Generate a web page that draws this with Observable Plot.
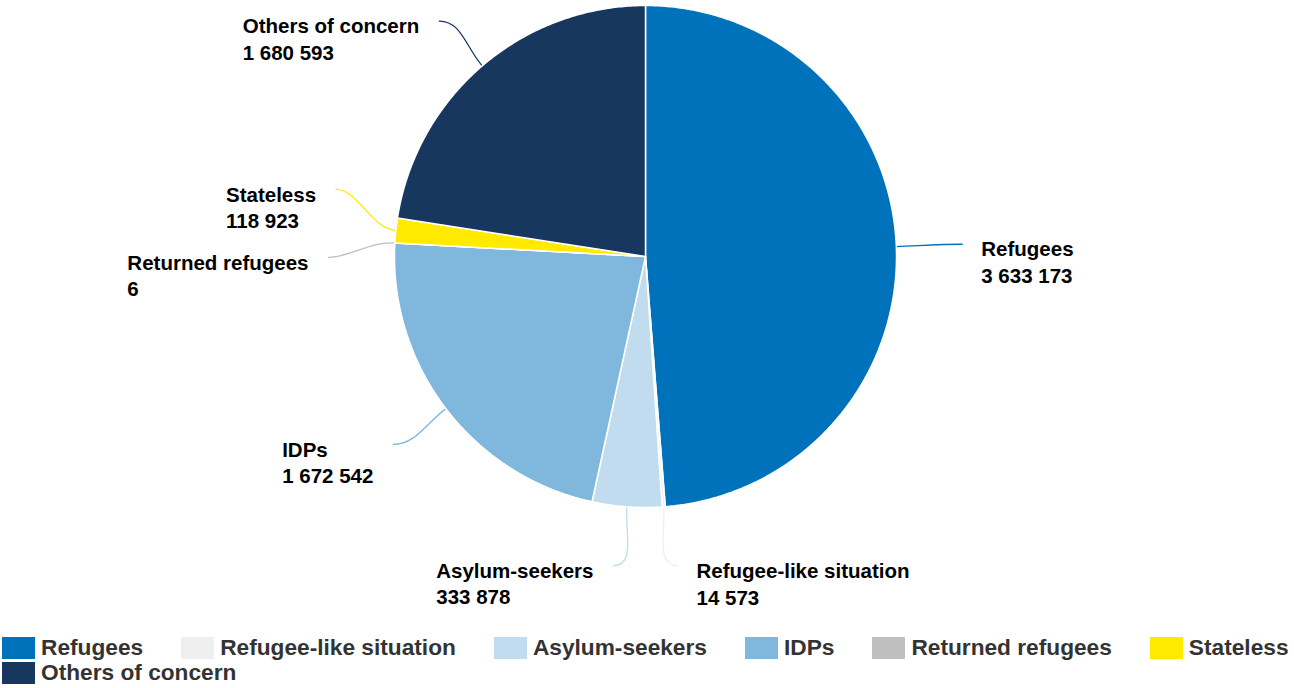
<!DOCTYPE html>
<html><head><meta charset="utf-8">
<script src="https://cdn.jsdelivr.net/npm/d3@7"></script>
<script src="https://cdn.jsdelivr.net/npm/@observablehq/plot@0.6"></script>
<style>
body{margin:0;background:#fff;font-family:"Liberation Sans",Arial,sans-serif;}
#chart svg{display:block}
.lg-swatches{font-family:"Liberation Sans",Arial,sans-serif !important;font-size:22.7px !important;font-weight:bold;color:#333 !important;margin:3px 0 0 2px !important;line-height:25px;min-height:0 !important;column-gap:38px;}
.lg-swatch{margin-right:0 !important;}
.lg-swatch svg{margin-right:6px !important;}
</style></head><body><div id="chart"></div><script>
const categories = ["Refugees","Refugee-like situation","Asylum-seekers","IDPs","Returned refugees","Stateless","Others of concern"];
const values = [3633173, 14573, 333878, 1672542, 6, 118923, 1680593];
const colors = ["#0072bc","#efefef","#c0dcee","#80b7dc","#bfbfbf","#ffea00","#18375f"];

const W = 1294, H = 632, R = 251, CX = 645, CY = 256;
const RLX = 317, RLY = 310, GAP = 68, MINX = 32;
const FONT = "'Liberation Sans', Arial, sans-serif";
const fmt = d3.formatLocale({thousands: " ", grouping: [3], decimal: "."}).format(",d");

const arcs = d3.pie().sort(null).value(d => d)(values);

// slice polygons
const slicePts = [];
arcs.forEach((a, i) => {
  const cat = categories[i];
  slicePts.push({cat, x: 0, y: 0});
  const n = Math.max(2, Math.ceil((a.endAngle - a.startAngle) / (Math.PI / 360)) + 1);
  for (let k = 0; k < n; k++) {
    const t = a.startAngle + (a.endAngle - a.startAngle) * k / (n - 1);
    slicePts.push({cat, x: R * Math.sin(t), y: -R * Math.cos(t)});
  }
});

// label placement (elliptical ring around the pie, overlaps pushed apart, mostly upward)
const labs = arcs.map((a, i) => {
  const m = (a.startAngle + a.endAngle) / 2;
  return {i, m, side: Math.sin(m) >= 0 ? 1 : -1, y: -RLY * Math.cos(m)};
});
for (const side of [1, -1]) {
  const g = labs.filter(l => l.side === side).sort((a, b) => a.y - b.y);
  for (let it = 0; it < 60; it++) {
    for (let j = 1; j < g.length; j++) {
      const d = g[j].y - g[j - 1].y;
      if (d < GAP) { const s = GAP - d; g[j].y += s / 3; g[j - 1].y -= 2 * s / 3; }
    }
  }
  g.forEach(l => {
    l.y = Math.max(-RLY, Math.min(RLY, l.y));
    l.x = side * Math.max(MINX, RLX * Math.sqrt(Math.max(0, 1 - (l.y / RLY) ** 2)));
  });
}

const ctx = document.createElement("canvas").getContext("2d");
ctx.font = "bold 20.5px " + FONT;

const connPts = [];
const labelRows = [];
labs.forEach(l => {
  const cat = categories[l.i];
  const ex = R * Math.sin(l.m), ey = -R * Math.cos(l.m);
  const ux = Math.sin(l.m), uy = -Math.cos(l.m);
  connPts.push({cat, x: l.x, y: l.y});
  connPts.push({cat, x: l.x - l.side * 22, y: l.y});
  connPts.push({cat, x: ex + ux * 26, y: ey + uy * 26});
  connPts.push({cat, x: ex, y: ey});
  const text = cat + "\n" + fmt(values[l.i]);
  const w = Math.max(ctx.measureText(cat).width, ctx.measureText(fmt(values[l.i])).width);
  labelRows.push({cat, text, x: l.side > 0 ? l.x + 19 : l.x - 20 - w, y: l.y});
});

function bezier(context) {
  let pts = [];
  return {
    areaStart() {}, areaEnd() {},
    lineStart() { pts = []; },
    point(x, y) { pts.push([+x, +y]); },
    lineEnd() {
      if (!pts.length) return;
      context.moveTo(pts[0][0], pts[0][1]);
      if (pts.length === 4) context.bezierCurveTo(pts[1][0], pts[1][1], pts[2][0], pts[2][1], pts[3][0], pts[3][1]);
      else pts.slice(1).forEach(p => context.lineTo(p[0], p[1]));
    }
  };
}

const plot = Plot.plot({
  width: W, height: H,
  marginTop: 0, marginRight: 0, marginBottom: 0, marginLeft: 0,
  x: {domain: [-CX, W - CX], range: [0, W], axis: null},
  y: {domain: [-CY, H - CY], range: [0, H], axis: null},
  color: {type: "ordinal", domain: categories, range: colors},
  style: {fontFamily: FONT, background: "#fff"},
  marks: [
    Plot.line(connPts, {x: "x", y: "y", z: "cat", stroke: "cat", strokeWidth: 1.3, curve: bezier}),
    Plot.line(slicePts, {x: "x", y: "y", z: "cat", fill: "cat", stroke: "#fff", strokeWidth: 1.5, strokeLinejoin: "round", curve: "linear-closed"}),
    Plot.text(labelRows, {x: "x", y: "y", text: "text", textAnchor: "start", lineAnchor: "middle", lineHeight: 1.3, dy: 17, fontSize: 20.5, fontWeight: "bold", fill: "#000", fontFamily: FONT})
  ]
});

const legend = plot.legend("color", {legend: "swatches", swatchWidth: 33, swatchHeight: 22, className: "lg"});
const chart = document.getElementById("chart");
chart.appendChild(plot);
chart.appendChild(legend);
</script></body></html>
